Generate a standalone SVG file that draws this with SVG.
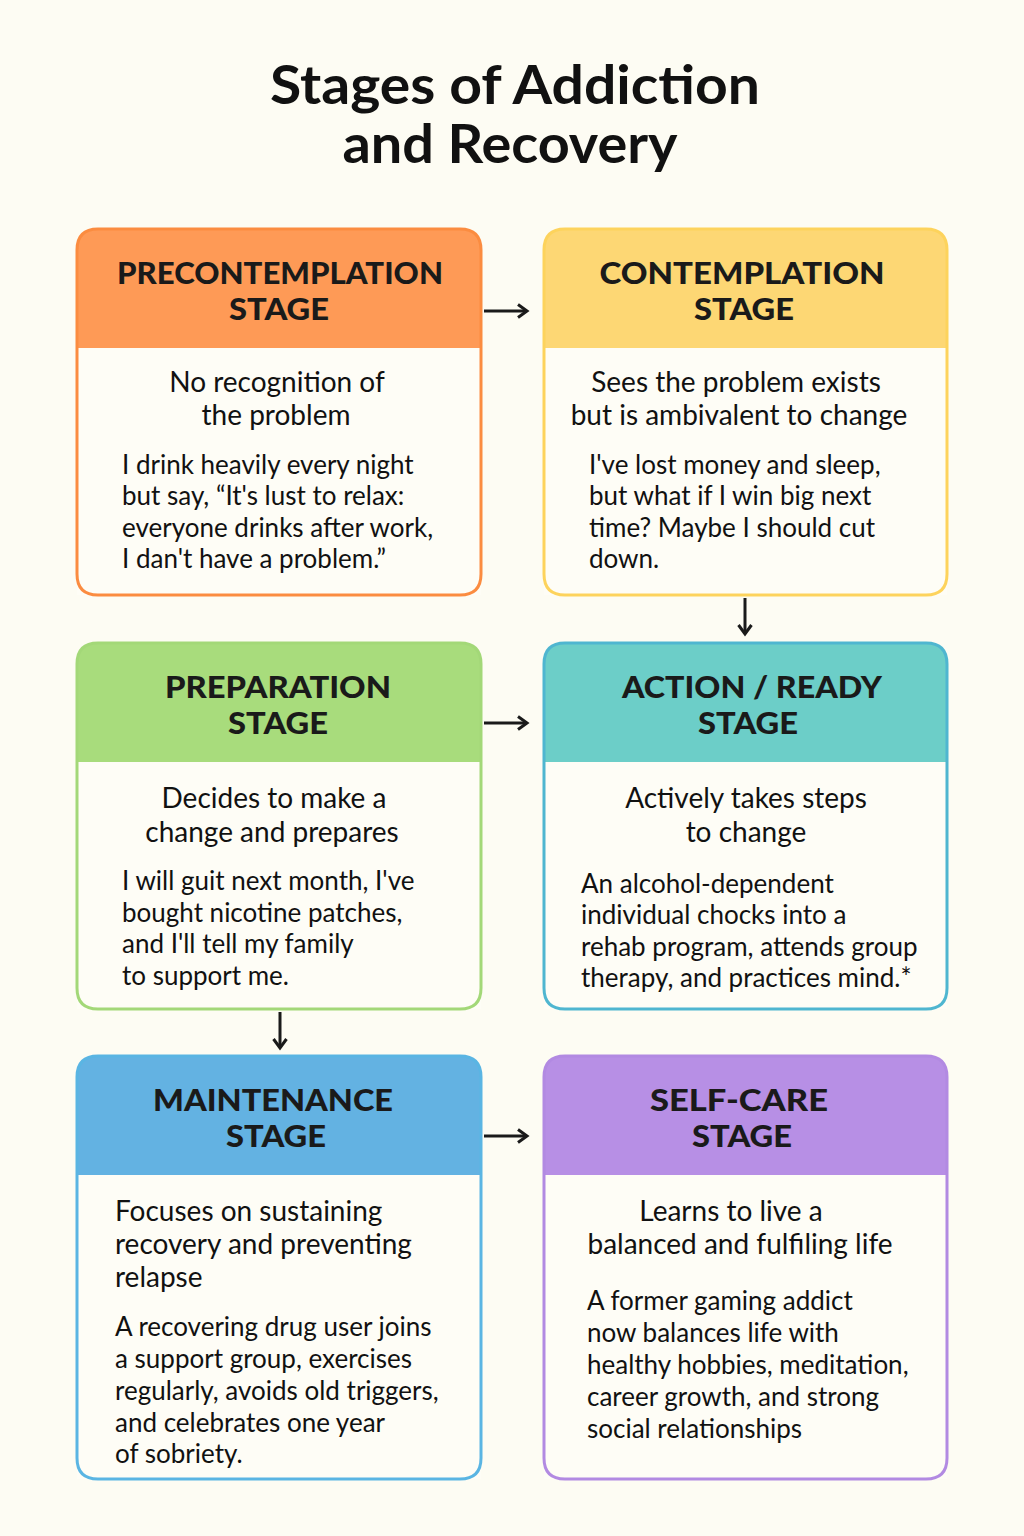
<svg xmlns="http://www.w3.org/2000/svg" width="1024" height="1536" viewBox="0 0 1024 1536">
<defs>
<style>
.title{font-family:"Lato","Liberation Sans",sans-serif;font-weight:700;font-size:54px;fill:#111;text-anchor:middle}
.hd{font-family:"Lato","Liberation Sans",sans-serif;font-weight:900;font-size:30px;fill:#1a1a1a;text-anchor:middle}
.ds{font-family:"Lato","Liberation Sans",sans-serif;font-size:28px;fill:#111;text-anchor:middle}
.dl{font-family:"Lato","Liberation Sans",sans-serif;font-size:28px;fill:#111}
.ex{font-family:"Lato","Liberation Sans",sans-serif;font-size:26px;fill:#111}
.body{fill:#fefdf6}
.conn{fill:none;stroke:#1a1a1a;stroke-width:3}
</style>
<marker id="ah" viewBox="0 0 16 16" refX="13" refY="8" markerWidth="16" markerHeight="16" markerUnits="userSpaceOnUse" orient="auto">
<path d="M4,1.5 L13,8 L4,14.5" fill="none" stroke="#1a1a1a" stroke-width="3"/>
</marker>
</defs>
<rect width="1024" height="1536" fill="#fdfcf3"/>
<text class="title" x="515" y="104" textLength="490" lengthAdjust="spacingAndGlyphs">Stages of Addiction</text>
<text class="title" x="510" y="163" textLength="335" lengthAdjust="spacingAndGlyphs">and Recovery</text>

<g id="precontemplation">
<path d="M77,348 V250 Q77,229 98,229 H460 Q481,229 481,250 V348 Z" fill="#fe9a56"/>
<rect class="body" x="77" y="348" width="404" height="247"/>
<path d="M77,250 Q77,229 98,229 H460 Q481,229 481,250 V574 Q481,595 460,595 H98 Q77,595 77,574 Z" fill="none" stroke="#fb8c40" stroke-width="3"/>
<text class="hd" x="280" y="284" textLength="326" lengthAdjust="spacingAndGlyphs">PRECONTEMPLATION</text>
<text class="hd" x="279" y="320" textLength="100" lengthAdjust="spacingAndGlyphs">STAGE</text>
<text class="ds" x="277" y="392">No recognition of</text>
<text class="ds" x="276" y="425">the problem</text>
<text class="ex" x="122" y="474">I drink heavily every night</text>
<text class="ex" x="122" y="505">but say, “It's lust to relax:</text>
<text class="ex" x="122" y="537">everyone drinks after work,</text>
<text class="ex" x="122" y="568">I dan't have a problem.”</text>
</g>

<g id="contemplation">
<path d="M544,348 V250 Q544,229 565,229 H926 Q947,229 947,250 V348 Z" fill="#fdd774"/>
<rect class="body" x="544" y="348" width="403" height="247"/>
<path d="M544,250 Q544,229 565,229 H926 Q947,229 947,250 V574 Q947,595 926,595 H565 Q544,595 544,574 Z" fill="none" stroke="#fdd35c" stroke-width="3"/>
<text class="hd" x="742" y="284" textLength="285" lengthAdjust="spacingAndGlyphs">CONTEMPLATION</text>
<text class="hd" x="744" y="320" textLength="100" lengthAdjust="spacingAndGlyphs">STAGE</text>
<text class="ds" x="736" y="392">Sees the problem exists</text>
<text class="ds" x="739" y="425">but is ambivalent to change</text>
<text class="ex" x="589" y="474">I've lost money and sleep,</text>
<text class="ex" x="589" y="505">but what if I win big next</text>
<text class="ex" x="589" y="537">time? Maybe I should cut</text>
<text class="ex" x="589" y="568">down.</text>
</g>

<g id="preparation">
<path d="M77,762 V664 Q77,643 98,643 H460 Q481,643 481,664 V762 Z" fill="#a8dc7c"/>
<rect class="body" x="77" y="762" width="404" height="247"/>
<path d="M77,664 Q77,643 98,643 H460 Q481,643 481,664 V988 Q481,1009 460,1009 H98 Q77,1009 77,988 Z" fill="none" stroke="#a3d878" stroke-width="3"/>
<text class="hd" x="278" y="698" textLength="226" lengthAdjust="spacingAndGlyphs">PREPARATION</text>
<text class="hd" x="278" y="734" textLength="100" lengthAdjust="spacingAndGlyphs">STAGE</text>
<text class="ds" x="274" y="808">Decides to make a</text>
<text class="ds" x="272" y="842">change and prepares</text>
<text class="ex" x="122" y="890">I will guit next month, I've</text>
<text class="ex" x="122" y="922">bought nicotine patches,</text>
<text class="ex" x="122" y="953">and I'll tell my family</text>
<text class="ex" x="122" y="985">to support me.</text>
</g>

<g id="action">
<path d="M544,762 V664 Q544,643 565,643 H926 Q947,643 947,664 V762 Z" fill="#6ccec8"/>
<rect class="body" x="544" y="762" width="403" height="247"/>
<path d="M544,664 Q544,643 565,643 H926 Q947,643 947,664 V988 Q947,1009 926,1009 H565 Q544,1009 544,988 Z" fill="none" stroke="#4fb6d0" stroke-width="3"/>
<text class="hd" x="752" y="698" textLength="260" lengthAdjust="spacingAndGlyphs">ACTION / READY</text>
<text class="hd" x="748" y="734" textLength="100" lengthAdjust="spacingAndGlyphs">STAGE</text>
<text class="ds" x="746" y="808">Actively takes steps</text>
<text class="ds" x="746" y="842">to change</text>
<text class="ex" x="581" y="893">An alcohol-dependent</text>
<text class="ex" x="581" y="924">individual chocks into a</text>
<text class="ex" x="581" y="956">rehab program, attends group</text>
<text class="ex" x="581" y="987">therapy, and practices mind.*</text>
</g>

<g id="maintenance">
<path d="M77,1175 V1077 Q77,1056 98,1056 H460 Q481,1056 481,1077 V1175 Z" fill="#63b2e2"/>
<rect class="body" x="77" y="1175" width="404" height="304"/>
<path d="M77,1077 Q77,1056 98,1056 H460 Q481,1056 481,1077 V1458 Q481,1479 460,1479 H98 Q77,1479 77,1458 Z" fill="none" stroke="#5ab5e3" stroke-width="3"/>
<text class="hd" x="273" y="1111" textLength="240" lengthAdjust="spacingAndGlyphs">MAINTENANCE</text>
<text class="hd" x="276" y="1147" textLength="100" lengthAdjust="spacingAndGlyphs">STAGE</text>
<text class="dl" x="115" y="1221">Focuses on sustaining</text>
<text class="dl" x="115" y="1254">recovery and preventing</text>
<text class="dl" x="115" y="1287">relapse</text>
<text class="ex" x="115" y="1336">A recovering drug user joins</text>
<text class="ex" x="115" y="1368">a support group, exercises</text>
<text class="ex" x="115" y="1400">regularly, avoids old triggers,</text>
<text class="ex" x="115" y="1432">and celebrates one year</text>
<text class="ex" x="115" y="1463">of sobriety.</text>
</g>

<g id="selfcare">
<path d="M544,1175 V1077 Q544,1056 565,1056 H926 Q947,1056 947,1077 V1175 Z" fill="#b78fe5"/>
<rect class="body" x="544" y="1175" width="403" height="304"/>
<path d="M544,1077 Q544,1056 565,1056 H926 Q947,1056 947,1077 V1458 Q947,1479 926,1479 H565 Q544,1479 544,1458 Z" fill="none" stroke="#b28ae2" stroke-width="3"/>
<text class="hd" x="739" y="1111" textLength="178" lengthAdjust="spacingAndGlyphs">SELF-CARE</text>
<text class="hd" x="742" y="1147" textLength="100" lengthAdjust="spacingAndGlyphs">STAGE</text>
<text class="ds" x="731" y="1221">Learns to live a</text>
<text class="ds" x="740" y="1254">balanced and fulfiling life</text>
<text class="ex" x="587" y="1310">A former gaming addict</text>
<text class="ex" x="587" y="1342">now balances life with</text>
<text class="ex" x="587" y="1374">healthy hobbies, meditation,</text>
<text class="ex" x="587" y="1406">career growth, and strong</text>
<text class="ex" x="587" y="1438">social relationships</text>
</g>

<g id="connectors">
<line class="conn" x1="484" y1="311" x2="527" y2="311" marker-end="url(#ah)"/>
<line class="conn" x1="745" y1="598" x2="745" y2="634" marker-end="url(#ah)"/>
<line class="conn" x1="484" y1="723" x2="527" y2="723" marker-end="url(#ah)"/>
<line class="conn" x1="280" y1="1012" x2="280" y2="1048" marker-end="url(#ah)"/>
<line class="conn" x1="484" y1="1136" x2="527" y2="1136" marker-end="url(#ah)"/>
</g>
</svg>
